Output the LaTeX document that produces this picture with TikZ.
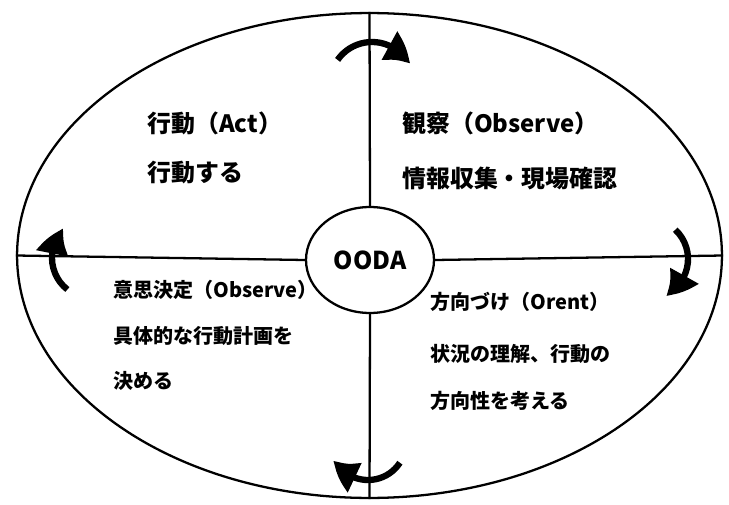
\documentclass[tikz,border=0pt]{standalone}
\usepackage{fontspec}
\setmainfont{Noto Sans CJK JP}
\usepackage{tikz}
\usetikzlibrary{shapes,arrows,positioning,calc,arrows.meta,bending}

\begin{document}
\begin{tikzpicture}[x=0.02cm, y=0.02cm,
    ring/.style={draw, ellipse, line width=1.3pt, inner sep=0},
    label/.style={anchor=west, inner sep=0, font=\bfseries\fontsize{13.6}{16}\selectfont},
    small/.style={anchor=west, inner sep=0, font=\bfseries\fontsize{11.4}{14}\selectfont},
    turn/.style={line width=3.6pt, -{Triangle[bend, length=0.55cm, width=0.62cm]}}]
    \useasboundingbox (0,0) rectangle (729,504);

    \node [ring, minimum width=14.1cm, minimum height=9.7cm] (cycle) at (369.5, 248.5) {}; % Outer
    \node [ring, minimum width=2.56cm, minimum height=2.12cm, font=\bfseries\fontsize{14}{16}\selectfont] (ooda) at (370, 244) {OODA};

    % Quadrant lines
    \draw [line width=1.3pt] (cycle.north) -- (ooda.north);
    \draw [line width=1.3pt] (ooda.south) -- (cycle.south);
    \draw [line width=1.3pt] (cycle.west) -- (ooda.west);
    \draw [line width=1.3pt] (ooda.east) -- (cycle.east);

    % Texts
    \node [label] (act) at (147, 381) {行動（Act）};
    \node [label] (acttext) at (147, 331) {行動する};
    \node [label] (observe) at (402, 381) {観察（Observe）};
    \node [label] (observetext) at (402, 326) {情報収集・現場確認};
    \node [small] (decide) at (113, 214) {意思決定（Observe）};
    \node [small] (decidetext) at (113, 168) {具体的な行動計画を};
    \node [small] (decidetextb) at (113, 123) {決める};
    \node [small] (orient) at (430, 202) {方向づけ（Orent）};
    \node [small] (orienttext) at (430, 150) {状況の理解、行動の};
    \node [small] (orienttextb) at (430, 103) {方向性を考える};

    % Turning arrows
    \draw [turn] ([shift={(145:42)}]372,420) arc (145:28:42);
    \draw [turn] ([shift={(47:40)}]648,245) arc (47:-64:40);
    \draw [turn] ([shift={(-33:38)}]368,62) arc (-33:-152:38);
    \draw [turn] ([shift={(232:40)}]92,246) arc (232:134:40);
\end{tikzpicture}
\end{document}
